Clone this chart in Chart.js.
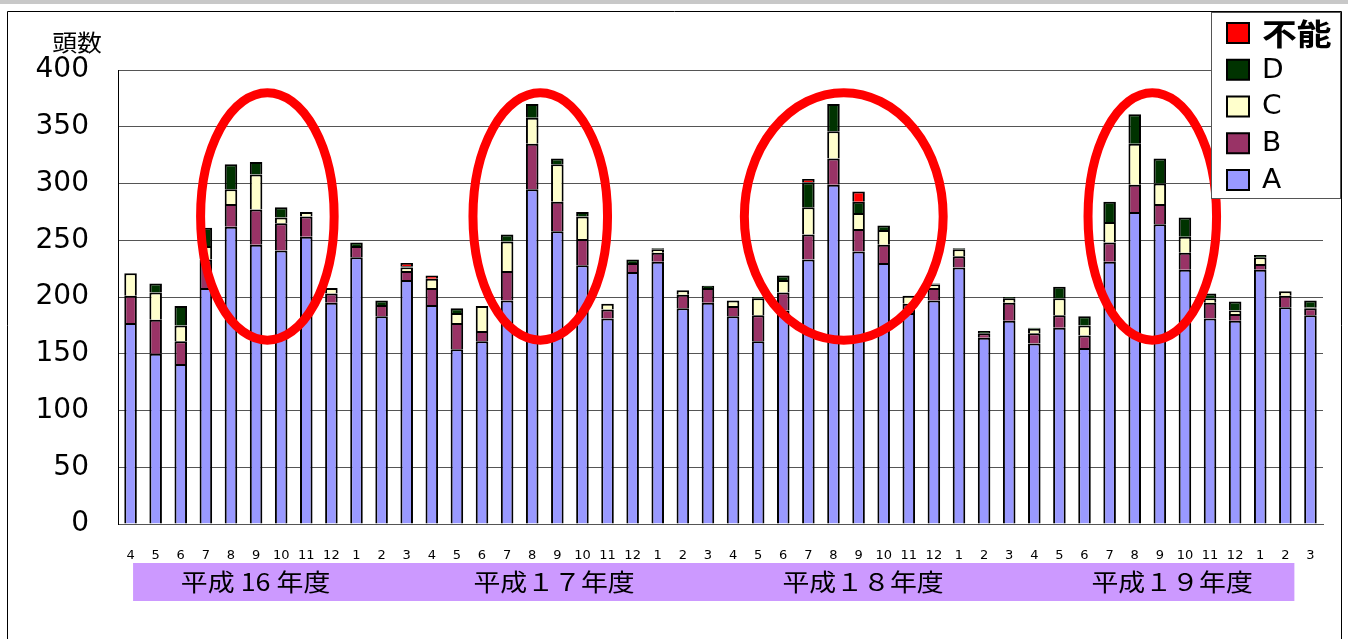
<!DOCTYPE html>
<html lang="ja">
<head>
<meta charset="utf-8">
<title>頭数</title>
<script src="https://cdn.jsdelivr.net/npm/chart.js@4.4.1/dist/chart.umd.min.js"></script>
<style>
html, body { margin: 0; padding: 0; background: #fff; }
#wrap { position: relative; width: 1348px; height: 639px; }
</style>
</head>
<body>
<div id="wrap"><canvas id="chart"></canvas></div>
<script>
var months = ['4','5','6','7','8','9','10','11','12','1','2','3',
              '4','5','6','7','8','9','10','11','12','1','2','3',
              '4','5','6','7','8','9','10','11','12','1','2','3',
              '4','5','6','7','8','9','10','11','12','1','2','3'];
var gradeA = [177,150,141,208,262,246,241,253,195,235,183,215,
              193,154,161,197,295,258,228,181,222,231,190,195,
              183,161,188,233,299,240,230,186,197,226,164,179,
              159,173,155,231,275,264,224,181,179,224,191,184];
var gradeB = [24,30,20,25,20,31,24,18,8,10,10,8,
              15,23,9,26,40,26,23,8,8,8,12,13,
              9,23,16,22,23,20,16,8,11,10,4,16,
              9,11,11,17,24,18,15,14,6,5,10,6];
var gradeC = [20,24,14,12,13,31,5,4,5,0,0,3,
              8,9,22,26,23,33,20,5,0,3,4,0,
              5,15,11,24,24,14,13,7,3,6,0,4,
              4,15,9,18,36,18,14,4,3,6,4,1];
var gradeD = [0,8,17,16,22,11,9,0,0,3,4,1,
              0,4,0,6,12,5,4,0,3,1,0,2,
              0,1,4,22,24,10,4,0,1,1,2,1,
              1,10,8,18,26,22,17,4,8,2,0,6];
var gradeX = [0,0,0,0,0,0,0,0,0,0,0,3,
              3,0,0,0,0,0,0,0,0,0,0,0,
              0,0,0,3,0,9,0,0,0,0,0,0,
              0,0,0,0,0,0,0,0,0,0,0,0];
var yTicks = [0,50,100,150,200,250,300,350,400];
var fiscalYears = ['平成 16 年度', '平成１７年度', '平成１８年度', '平成１９年度'];

// red rings round the summer peaks, in category / value units
var rings = [
    { x: 5.45, y: 271, rx: 2.66, ry: 109 },
    { x: 16.32, y: 271, rx: 2.68, ry: 109 },
    { x: 28.41, y: 271, rx: 3.96, ry: 109 },
    { x: 40.7, y: 271, rx: 2.56, ry: 109 }
];
var fiscalCenters = [4.98, 16.87, 29.18, 41.49];

function wideText(ctx, text, px, py, sx) {
    ctx.save();
    ctx.translate(px, py);
    ctx.scale(sx, 1);
    ctx.fillText(text, 0, 0);
    ctx.restore();
}

var decor = {
    id: 'decor',
    beforeDraw: function(chart) {
        var ctx = chart.ctx;
        ctx.save();
        ctx.fillStyle = '#fff';
        ctx.fillRect(0, 0, chart.width, chart.height);
        ctx.fillStyle = '#c8c8c8';
        ctx.fillRect(0, 0, chart.width, 4);
        ctx.strokeStyle = '#000';
        ctx.lineWidth = 1;
        ctx.beginPath();
        ctx.moveTo(7.5, chart.height);
        ctx.lineTo(7.5, 11.5);
        ctx.lineTo(1341.5, 11.5);
        ctx.lineTo(1341.5, chart.height);
        ctx.stroke();
        // y title
        ctx.fillStyle = '#000';
        ctx.font = '23px "Noto Sans CJK JP"';
        ctx.textAlign = 'center';
        ctx.textBaseline = 'middle';
        wideText(ctx, '頭数', 77, 42, 1.08);
        ctx.restore();
    },
    afterDraw: function(chart) {
        var ctx = chart.ctx, x = chart.scales.x, y = chart.scales.y, area = chart.chartArea;
        ctx.save();
        // rings
        ctx.strokeStyle = '#ff0000';
        ctx.lineWidth = 9;
        rings.forEach(function(r) {
            var cx = x.getPixelForValue(r.x), cy = y.getPixelForValue(r.y);
            var rx = x.getPixelForValue(r.x + r.rx) - cx;
            var ry = cy - y.getPixelForValue(r.y + r.ry);
            ctx.beginPath();
            ctx.ellipse(cx, cy, rx, ry, 0, 0, Math.PI * 2);
            ctx.stroke();
        });
        // fiscal year band
        var bx0 = x.getPixelForValue(0.1), bx1 = x.getPixelForValue(46.36);
        ctx.fillStyle = '#cc99ff';
        ctx.fillRect(bx0, area.bottom + 39, bx1 - bx0, 38);
        ctx.fillStyle = '#000';
        ctx.font = '24px "Noto Sans CJK JP"';
        ctx.textAlign = 'center';
        ctx.textBaseline = 'middle';
        fiscalYears.forEach(function(t, i) {
            wideText(ctx, t, x.getPixelForValue(fiscalCenters[i]), area.bottom + 58, 1.12);
        });
        // legend
        ctx.fillStyle = '#fff';
        ctx.fillRect(1211, 12, 130, 187);
        ctx.strokeStyle = '#555';
        ctx.lineWidth = 1;
        ctx.strokeRect(1211.5, 12.5, 129, 186);
        var sets = chart.data.datasets.slice().reverse();
        sets.forEach(function(ds, i) {
            var cy = 33 + i * 36.75;
            ctx.fillStyle = ds.backgroundColor;
            ctx.fillRect(1227, cy - 10, 22, 20);
            ctx.strokeStyle = '#000';
            ctx.lineWidth = 2;
            ctx.strokeRect(1227, cy - 10, 22, 20);
            ctx.fillStyle = '#000';
            ctx.textAlign = 'left';
            ctx.textBaseline = 'middle';
            if (ds.label === '不能') {
                ctx.font = 'bold 30px "Noto Sans CJK JP"';
                wideText(ctx, ds.label, 1262, cy + 1, 1.16);
            } else {
                ctx.font = '26px "DejaVu Sans"';
                wideText(ctx, ds.label, 1262, cy + 1, 1.08);
            }
        });
        ctx.restore();
    }
};

function bars(label, data, color) {
    return {
        label: label,
        data: data,
        backgroundColor: color,
        borderColor: '#000',
        borderWidth: 2,
        borderSkipped: 'start',
        barPercentage: 0.5,
        categoryPercentage: 1
    };
}

new Chart(document.getElementById('chart'), {
    type: 'bar',
    data: {
        labels: months,
        datasets: [
            bars('A', gradeA, '#9999ff'),
            bars('B', gradeB, '#993366'),
            bars('C', gradeC, '#ffffcc'),
            bars('D', gradeD, '#003300'),
            bars('不能', gradeX, '#ff0000')
        ]
    },
    options: {
        responsive: true,
        maintainAspectRatio: false,
        animation: false,
        layout: { padding: { left: 0, right: 25, top: 70, bottom: 0 } },
        plugins: { legend: { display: false }, tooltip: { enabled: false } },
        scales: {
            x: {
                stacked: true,
                grid: { display: false },
                border: { display: true, color: '#555', width: 1 },
                ticks: { font: { family: 'DejaVu Sans', size: 13 }, color: '#000', padding: 16, maxRotation: 0, autoSkip: false },
                afterFit: function(s) { s.height = 115; }
            },
            y: {
                stacked: true,
                min: 0,
                max: 400,
                grid: { color: '#555', drawTicks: false },
                border: { color: '#000', width: 1 },
                ticks: { font: { family: 'DejaVu Sans', size: 28 }, color: '#000', padding: 29 },
                afterBuildTicks: function(s) { s.ticks = yTicks.map(function(v) { return { value: v }; }); },
                afterFit: function(s) { s.width = 118; }
            }
        }
    },
    plugins: [decor]
});
</script>
</body>
</html>
